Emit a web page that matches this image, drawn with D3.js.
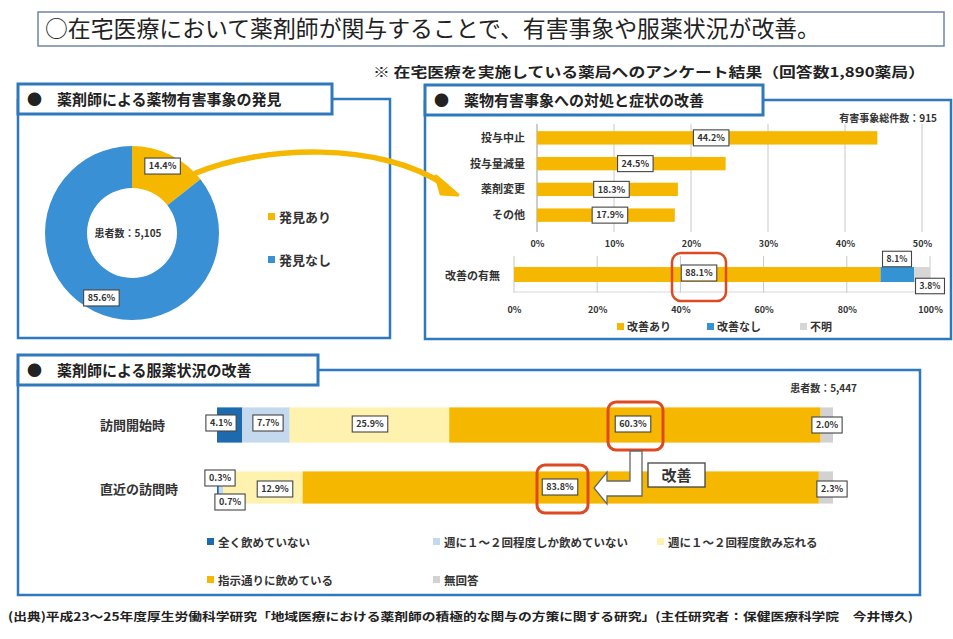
<!DOCTYPE html>
<html><head><meta charset="utf-8">
<script src="https://cdn.jsdelivr.net/npm/d3@7"></script>
<style>
body{margin:0;background:#fff;}
svg{display:block;font-family:"Noto Sans CJK JP","Noto Sans",sans-serif;}
</style></head>
<body>
<svg id="c" width="953" height="639"></svg>
<script>
// ---- data ----
const titleText = "○在宅医療において薬剤師が関与することで、有害事象や服薬状況が改善。";
const subtitleText = "※ 在宅医療を実施している薬局へのアンケート結果（回答数1,890薬局）";
const footerText = "(出典)平成23～25年度厚生労働科学研究「地域医療における薬剤師の積極的な関与の方策に関する研究」(主任研究者：保健医療科学院　今井博久)";

const discoveryLabels = ["発見あり", "発見なし"];
const discoveryValues = [14.4, 85.6];

const actionCategories = ["投与中止", "投与量減量", "薬剤変更", "その他"];
const actionValues = [44.2, 24.5, 18.3, 17.9];
const actionTicks = [0, 10, 20, 30, 40, 50];

const improveLabels = ["改善あり", "改善なし", "不明"];
const improveValues = [88.1, 8.1, 3.8];
const improveTicks = [0, 20, 40, 60, 80, 100];

const adherenceRows = ["訪問開始時", "直近の訪問時"];
const adherenceSeries = ["全く飲めていない", "週に１～２回程度しか飲めていない", "週に１～２回程度飲み忘れる", "指示通りに飲めている", "無回答"];
const adherenceStart = [4.1, 7.7, 25.9, 60.3, 2.0];
const adherenceLatest = [0.3, 0.7, 12.9, 83.8, 2.3];

// ---- style ----
const ORANGE = "#F6B700", BLUE = "#3A90D4", PANEL = "#2F78BC";
const adherenceColors = ["#1D6AAF", "#C4D9EE", "#FFF1AE", ORANGE, "#D2D2D2"];
const improveColors = [ORANGE, "#3493D3", "#D6D6D6"];
const RED = "#DD4A22";

const svg = d3.select("#c");

// title box
svg.append("rect").attr("x",38).attr("y",12).attr("width",906).attr("height",34)
  .attr("fill","#fff").attr("stroke","#6F86A8").attr("stroke-width",1.5);
svg.append("text").attr("x",45).attr("y",37).attr("font-size",22.5).attr("fill","#222")
  .attr("textLength",775).attr("lengthAdjust","spacingAndGlyphs").text(titleText);
svg.append("text").attr("x",373).attr("y",77).attr("font-size",13.5).attr("font-weight","bold")
  .attr("fill","#222").attr("textLength",552).attr("lengthAdjust","spacingAndGlyphs").text(subtitleText);

function panel(x0,y0,x1,y1,tabW,title){
  svg.append("path").attr("d",`M${x0},${y0+15}V${y1}H${x1}V${y0+15}H${x0}`)
    .attr("fill","#fff").attr("stroke",PANEL).attr("stroke-width",2.5);
  svg.append("rect").attr("x",x0).attr("y",y0).attr("width",tabW).attr("height",30)
    .attr("fill","#fff").attr("stroke",PANEL).attr("stroke-width",3);
  svg.append("text").attr("x",x0+9).attr("y",y0+21).attr("font-size",15).attr("font-weight","bold")
    .attr("fill","#222").text(title);
}
panel(18,84,390,338,314,"●　薬剤師による薬物有害事象の発見");
panel(425,85,951,339,338,"●　薬物有害事象への対処と症状の改善");
panel(18,355,920,595,300,"●　薬剤師による服薬状況の改善");

function labelBox(g,x,y,txt,fs){
  fs = fs||9;
  const t = g.append("text").attr("x",x).attr("y",y+fs*0.36).attr("text-anchor","middle")
    .attr("font-size",fs).attr("font-weight","bold").attr("fill","#333").text(txt);
  const w = t.node().getComputedTextLength()+8, h = fs+7;
  g.insert("rect","text:last-child").attr("x",x-w/2).attr("y",y-h/2).attr("width",w).attr("height",h)
    .attr("fill","#fff").attr("stroke","#444").attr("stroke-width",1.1);
  t.raise();
}

// ---- donut ----
const dg = svg.append("g").attr("transform","translate(132,233)");
const pie = d3.pie().sort(null).value(d=>d)(discoveryValues);
const arc = d3.arc().innerRadius(45).outerRadius(87);
const donutColors = [ORANGE, BLUE];
dg.selectAll("path.s").data(pie).enter().append("path").attr("d",arc)
  .attr("fill",(d,i)=>donutColors[i]);
const lblArc = d3.arc().innerRadius(70).outerRadius(70);
pie.forEach((d,i)=>{
  const c = lblArc.centroid(d);
  const off = i===0 ? [0,-4] : [0,2];
  labelBox(dg,c[0]+off[0],c[1]+off[1],discoveryValues[i].toFixed(1)+"%",9);
});
dg.append("text").attr("x",-4).attr("y",4).attr("text-anchor","middle").attr("font-size",10)
  .attr("font-weight","bold").attr("fill","#333").text("患者数：5,105");
discoveryLabels.forEach((l,i)=>{
  const y = 217 + i*43;
  svg.append("rect").attr("x",268).attr("y",y-4).attr("width",7).attr("height",7).attr("fill",donutColors[i]);
  svg.append("text").attr("x",279).attr("y",y+5).attr("font-size",13).attr("font-weight","bold")
    .attr("fill","#333").text(l);
});

// ---- action bars ----
const xA = d3.scaleLinear().domain([0,50]).range([537,922]);
const yA = d3.scaleBand().domain(actionCategories).range([125,228]).paddingInner(0.48).paddingOuter(0.24);
const ag = svg.append("g");
ag.selectAll("line.g").data(actionTicks).enter().append("line")
  .attr("x1",d=>xA(d)).attr("x2",d=>xA(d)).attr("y1",124).attr("y2",232)
  .attr("stroke",(d,i)=>i===0?"#999":"#C8C8C8").attr("stroke-width",1);
ag.selectAll("rect.b").data(actionValues).enter().append("rect")
  .attr("x",xA(0)).attr("y",(d,i)=>yA(actionCategories[i])).attr("height",yA.bandwidth())
  .attr("width",d=>xA(d)-xA(0)).attr("fill",ORANGE);
actionCategories.forEach((c,i)=>{
  ag.append("text").attr("x",525).attr("y",yA(c)+yA.bandwidth()/2+4).attr("text-anchor","end")
    .attr("font-size",11).attr("font-weight","bold").attr("fill","#333").text(c);
  labelBox(ag,(xA(0)+xA(actionValues[i]))/2+4,yA(c)+yA.bandwidth()/2,actionValues[i].toFixed(1)+"%",9);
});
const axA = svg.append("g").attr("transform","translate(0,238)")
  .call(d3.axisBottom(xA).tickValues(actionTicks).tickFormat(d=>d+"%").tickSize(0));
axA.select(".domain").remove();
axA.selectAll("text").attr("font-size",9).attr("font-weight","bold").attr("fill","#333")
  .attr("font-family","Noto Sans CJK JP");
svg.append("text").attr("x",937).attr("y",122).attr("text-anchor","end").attr("font-size",10)
  .attr("font-weight","bold").attr("fill","#333").text("有害事象総件数：915");

// ---- improvement stacked bar ----
const xI = d3.scaleLinear().domain([0,100]).range([514,930]);
const ig = svg.append("g");
ig.selectAll("line.g").data(improveTicks).enter().append("line")
  .attr("x1",d=>xI(d)).attr("x2",d=>xI(d)).attr("y1",256).attr("y2",293)
  .attr("stroke","#C8C8C8");
ig.append("line").attr("x1",xI(0)).attr("x2",xI(100)).attr("y1",292).attr("y2",292).attr("stroke","#D8D8D8");
let cum = 0;
const improveStack = improveValues.map(v=>{const s=cum; cum+=v; return [s,cum];});
ig.selectAll("rect.b").data(improveStack).enter().append("rect")
  .attr("x",d=>xI(d[0])).attr("width",d=>xI(d[1])-xI(d[0])).attr("y",267).attr("height",15)
  .attr("fill",(d,i)=>improveColors[i]);
ig.append("text").attr("x",500).attr("y",280).attr("text-anchor","end").attr("font-size",11)
  .attr("font-weight","bold").attr("fill","#333").text("改善の有無");
labelBox(ig,699,273,improveValues[0].toFixed(1)+"%",9);
ig.append("rect").attr("x",672).attr("y",253).attr("width",54).attr("height",48).attr("rx",9)
  .attr("fill","none").attr("stroke",RED).attr("stroke-width",2.5);
labelBox(ig,897,259,improveValues[1].toFixed(1)+"%",8.5);
labelBox(ig,930,286,improveValues[2].toFixed(1)+"%",8.5);
const axI = svg.append("g").attr("transform","translate(0,304)")
  .call(d3.axisBottom(xI).tickValues(improveTicks).tickFormat(d=>d+"%").tickSize(0));
axI.select(".domain").remove();
axI.selectAll("text").attr("font-size",9).attr("font-weight","bold").attr("fill","#333")
  .attr("font-family","Noto Sans CJK JP");
const improveLegX = [617,707,800];
improveLabels.forEach((l,i)=>{
  svg.append("rect").attr("x",improveLegX[i]).attr("y",323).attr("width",7).attr("height",7).attr("fill",improveColors[i]);
  svg.append("text").attr("x",improveLegX[i]+10).attr("y",331).attr("font-size",11).attr("font-weight","bold")
    .attr("fill","#333").text(l);
});

// curved yellow arrow
svg.append("path").attr("d","M196,173 C260,146 380,140 446,186")
  .attr("fill","none").attr("stroke",ORANGE).attr("stroke-width",5.5).attr("stroke-linecap","round");
svg.append("path").attr("d","M436,176 L458,195 L441,194 Z").attr("fill",ORANGE)
  .attr("stroke",ORANGE).attr("stroke-width",3).attr("stroke-linejoin","round");

// ---- adherence stacked bars ----
const xS = d3.scaleLinear().domain([0,100]).range([217,833]);
const yS = d3.scaleBand().domain(adherenceRows).range([393,521]).paddingInner(0.45).paddingOuter(0.225);
const sg = svg.append("g");
const rowsData = [adherenceStart, adherenceLatest];
rowsData.forEach((vals,r)=>{
  let c=0;
  const st = vals.map(v=>{const s=c; c+=v; return [s,c];});
  const y = yS(adherenceRows[r]);
  const h = r===0 ? yS.bandwidth() : yS.bandwidth()-3;
  sg.selectAll(null).data(st).enter().append("rect")
    .attr("x",d=>xS(d[0])).attr("width",d=>xS(d[1])-xS(d[0])).attr("y",y).attr("height",h)
    .attr("fill",(d,i)=>adherenceColors[i]);
  sg.append("text").attr("x",100).attr("y",y+yS.bandwidth()/2+5).attr("font-size",13)
    .attr("font-weight","bold").attr("fill","#333").text(adherenceRows[r]);
});
const fmt = v=>v.toFixed(1)+"%";
labelBox(sg,221,423,fmt(adherenceStart[0]),9);
labelBox(sg,268,423,fmt(adherenceStart[1]),9);
labelBox(sg,370,424,fmt(adherenceStart[2]),9);
labelBox(sg,633,424,fmt(adherenceStart[3]),9);
labelBox(sg,827,425,fmt(adherenceStart[4]),9);
labelBox(sg,220,478,fmt(adherenceLatest[0]),9);
labelBox(sg,230,502,fmt(adherenceLatest[1]),9);
labelBox(sg,275,489,fmt(adherenceLatest[2]),9);
labelBox(sg,560,487,fmt(adherenceLatest[3]),9);
labelBox(sg,832,489,fmt(adherenceLatest[4]),9);
sg.append("rect").attr("x",608).attr("y",402).attr("width",55).attr("height",48).attr("rx",8)
  .attr("fill","none").attr("stroke",RED).attr("stroke-width",3);
sg.append("rect").attr("x",537).attr("y",465).attr("width",51).attr("height",48).attr("rx",8)
  .attr("fill","none").attr("stroke",RED).attr("stroke-width",3);
// L arrow
sg.append("path").attr("d","M630,451 H642 V496 H607 V504 L594,488 L607,472 V481 H630 Z")
  .attr("fill","#fff").attr("stroke","#666").attr("stroke-width",1.3);
sg.append("rect").attr("x",648).attr("y",463).attr("width",57).attr("height",24)
  .attr("fill","#fff").attr("stroke","#444").attr("stroke-width",1.3);
sg.append("text").attr("x",676.5).attr("y",481).attr("text-anchor","middle").attr("font-size",15)
  .attr("font-weight","bold").attr("fill","#333").text("改善");
svg.append("text").attr("x",857).attr("y",392).attr("text-anchor","end").attr("font-size",10)
  .attr("font-weight","bold").attr("fill","#333").text("患者数：5,447");
// legend
const legPos = [[207,542],[433,542],[657,542],[207,580],[433,580]];
adherenceSeries.forEach((s,i)=>{
  const [x,y]=legPos[i];
  svg.append("rect").attr("x",x).attr("y",y-4).attr("width",7).attr("height",7).attr("fill",adherenceColors[i]);
  svg.append("text").attr("x",x+11).attr("y",y+5).attr("font-size",11.5).attr("font-weight","bold")
    .attr("fill","#333").text(s);
});

// footer
svg.append("text").attr("x",8).attr("y",621).attr("font-size",11.5).attr("font-weight","bold")
  .attr("fill","#222").attr("textLength",905).attr("lengthAdjust","spacingAndGlyphs").text(footerText);
</script>
</body></html>
